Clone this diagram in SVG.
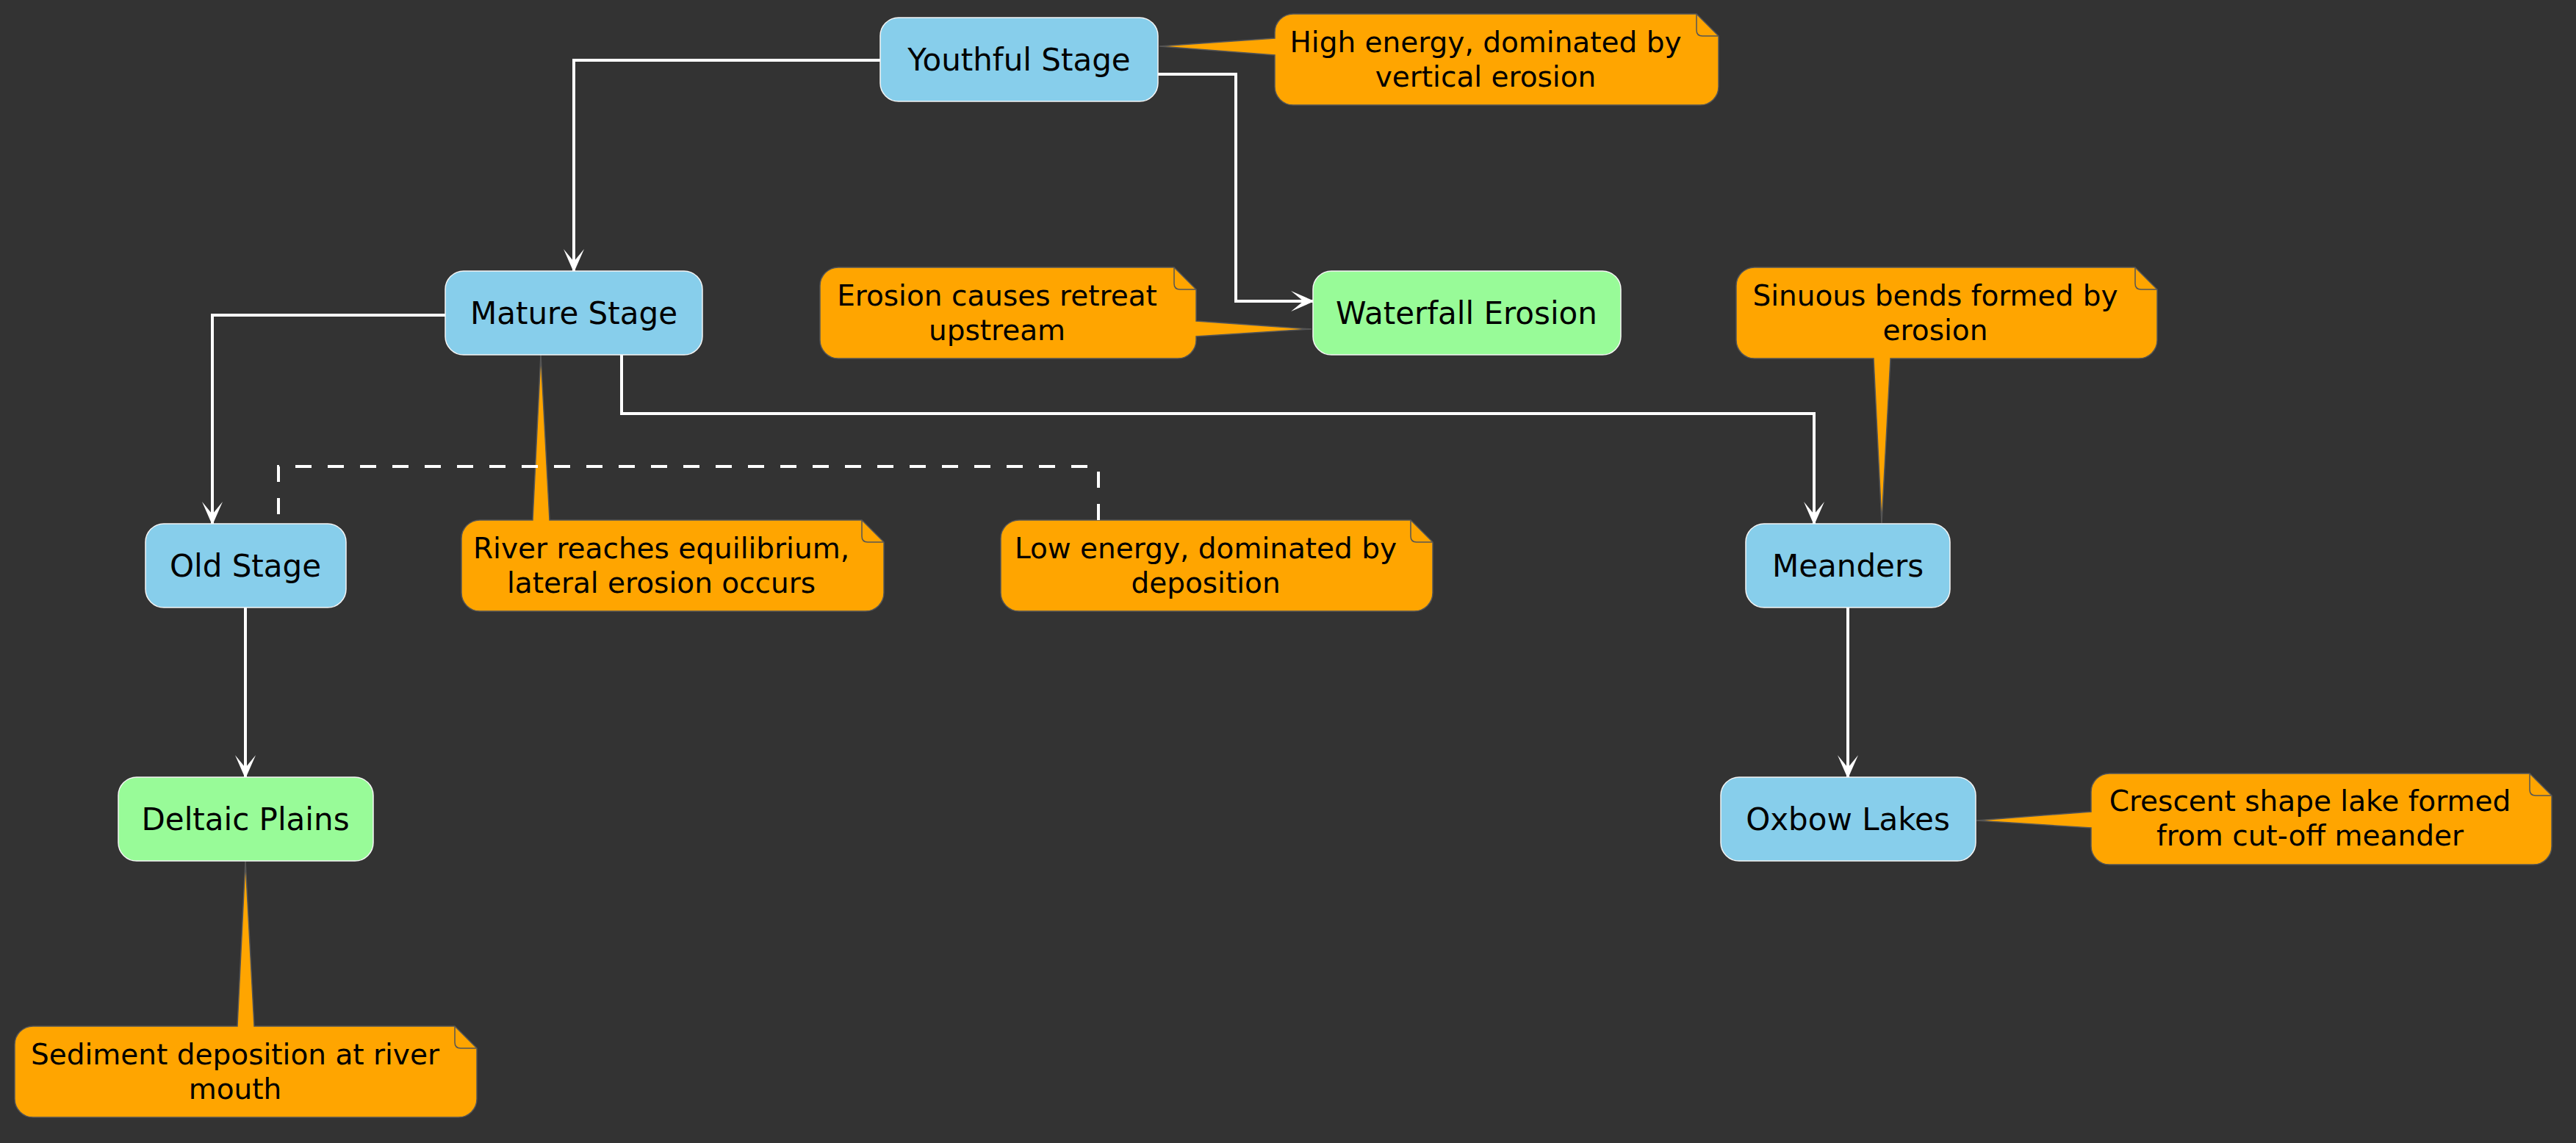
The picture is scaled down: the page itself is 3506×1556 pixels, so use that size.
<svg xmlns="http://www.w3.org/2000/svg" width="3506" height="1556" viewBox="0 0 3506 1556">
<style>
.bg{fill:#333333}
.node rect{stroke:#F5F5F5;stroke-width:1.5}
.blue rect{fill:#87CEEB}
.green rect{fill:#98FB98}
.node text{font-family:"DejaVu Sans",Verdana,sans-serif;font-size:42px;fill:#000;text-anchor:middle}
.note .body{fill:#FFA500;stroke:#555555;stroke-width:1.5}
.note .fold{fill:none;stroke:#555555;stroke-width:1.5}
.note text{font-family:"DejaVu Sans",Verdana,sans-serif;font-size:39px;fill:#000;text-anchor:middle}
.edge{fill:none;stroke:#FFFFFF;stroke-width:4}
.dash{fill:none;stroke:#FFFFFF;stroke-width:4;stroke-dasharray:22 22}
</style>
<defs>
<marker id="arr" markerUnits="userSpaceOnUse" markerWidth="40" markerHeight="40" viewBox="-40 -20 40 40" refX="0" refY="0" orient="auto">
<path d="M0,0 L-32,-14 L-15,0 L-32,14 Z" fill="#FFFFFF"/>
</marker>
</defs>
<rect class="bg" x="0" y="0" width="3506" height="1556"/>

<g id="notes">
<g id="note-high" class="note">
<path class="body" d="M1760,19 H2309 L2339,49 V118 A25,25 0 0 1 2314,143 H1760 A25,25 0 0 1 1735,118 V75 L1578,63 L1735,52 V44 A25,25 0 0 1 1760,19 Z"/>
<path class="fold" d="M2309,19 V41 Q2309,49 2317,49 H2339"/>
<text x="2022" y="71">High energy, dominated by</text>
<text x="2022" y="118">vertical erosion</text>
</g>
<g id="note-erosion" class="note">
<path class="body" d="M1141,364 H1598 L1628,394 V437 L1785,448 L1628,458 V463 A25,25 0 0 1 1603,488 H1141 A25,25 0 0 1 1116,463 V389 A25,25 0 0 1 1141,364 Z"/>
<path class="fold" d="M1598,364 V386 Q1598,394 1606,394 H1628"/>
<text x="1357" y="416">Erosion causes retreat</text>
<text x="1357" y="463">upstream</text>
</g>
<g id="note-sinuous" class="note">
<path class="body" d="M2388,364 H2906 L2936,394 V463 A25,25 0 0 1 2911,488 H2573 L2561,712 L2550,488 H2388 A25,25 0 0 1 2363,463 V389 A25,25 0 0 1 2388,364 Z"/>
<path class="fold" d="M2906,364 V386 Q2906,394 2914,394 H2936"/>
<text x="2634" y="416">Sinuous bends formed by</text>
<text x="2634" y="463">erosion</text>
</g>
<g id="note-river" class="note">
<path class="body" d="M653,708 H725 L736,483 L748,708 H1173 L1203,738 V807 A25,25 0 0 1 1178,832 H653 A25,25 0 0 1 628,807 V733 A25,25 0 0 1 653,708 Z"/>
<path class="fold" d="M1173,708 V730 Q1173,738 1181,738 H1203"/>
<text x="900" y="760">River reaches equilibrium,</text>
<text x="900" y="807">lateral erosion occurs</text>
</g>
<g id="note-low" class="note">
<path class="body" d="M1387,708 H1920 L1950,738 V807 A25,25 0 0 1 1925,832 H1387 A25,25 0 0 1 1362,807 V733 A25,25 0 0 1 1387,708 Z"/>
<path class="fold" d="M1920,708 V730 Q1920,738 1928,738 H1950"/>
<text x="1641" y="760">Low energy, dominated by</text>
<text x="1641" y="807">deposition</text>
</g>
<g id="note-crescent" class="note">
<path class="body" d="M2871,1053 H3443 L3473,1083 V1152 A25,25 0 0 1 3448,1177 H2871 A25,25 0 0 1 2846,1152 V1127 L2690,1117 L2846,1105 V1078 A25,25 0 0 1 2871,1053 Z"/>
<path class="fold" d="M3443,1053 V1075 Q3443,1083 3451,1083 H3473"/>
<text x="3144" y="1104">Crescent shape lake formed</text>
<text x="3144" y="1151">from cut-off meander</text>
</g>
<g id="note-sediment" class="note">
<path class="body" d="M45,1397 H323 L334,1172 L346,1397 H619 L649,1427 V1496 A25,25 0 0 1 624,1521 H45 A25,25 0 0 1 20,1496 V1422 A25,25 0 0 1 45,1397 Z"/>
<path class="fold" d="M619,1397 V1419 Q619,1427 627,1427 H649"/>
<text x="320" y="1449">Sediment deposition at river</text>
<text x="320" y="1496">mouth</text>
</g>
</g>

<g id="connectors">
<path class="edge" d="M1198,82 H781 V371" marker-end="url(#arr)"/>
<path class="edge" d="M1576,101 H1682 V410 H1789" marker-end="url(#arr)"/>
<path class="edge" d="M606,429 H289 V715" marker-end="url(#arr)"/>
<path class="edge" d="M846,483 V563 H2469 V715" marker-end="url(#arr)"/>
<path class="edge" d="M334,827 V1060" marker-end="url(#arr)"/>
<path class="edge" d="M2515,827 V1060" marker-end="url(#arr)"/>
<path class="dash" d="M1495,708 V635 H379 V713"/>
</g>

<g id="youthful" class="node blue">
<rect x="1198" y="24" width="378" height="114" rx="25" ry="25"/>
<text x="1387" y="96">Youthful Stage</text>
</g>
<g id="mature" class="node blue">
<rect x="606" y="369" width="350" height="114" rx="25" ry="25"/>
<text x="781" y="441">Mature Stage</text>
</g>
<g id="waterfall" class="node green">
<rect x="1787" y="369" width="419" height="114" rx="25" ry="25"/>
<text x="1996" y="441">Waterfall Erosion</text>
</g>
<g id="old" class="node blue">
<rect x="198" y="713" width="273" height="114" rx="25" ry="25"/>
<text x="334" y="785">Old Stage</text>
</g>
<g id="meanders" class="node blue">
<rect x="2376" y="713" width="278" height="114" rx="25" ry="25"/>
<text x="2515" y="785">Meanders</text>
</g>
<g id="deltaic" class="node green">
<rect x="161" y="1058" width="347" height="114" rx="25" ry="25"/>
<text x="334" y="1130">Deltaic Plains</text>
</g>
<g id="oxbow" class="node blue">
<rect x="2342" y="1058" width="347" height="114" rx="25" ry="25"/>
<text x="2515" y="1130">Oxbow Lakes</text>
</g>
</svg>
